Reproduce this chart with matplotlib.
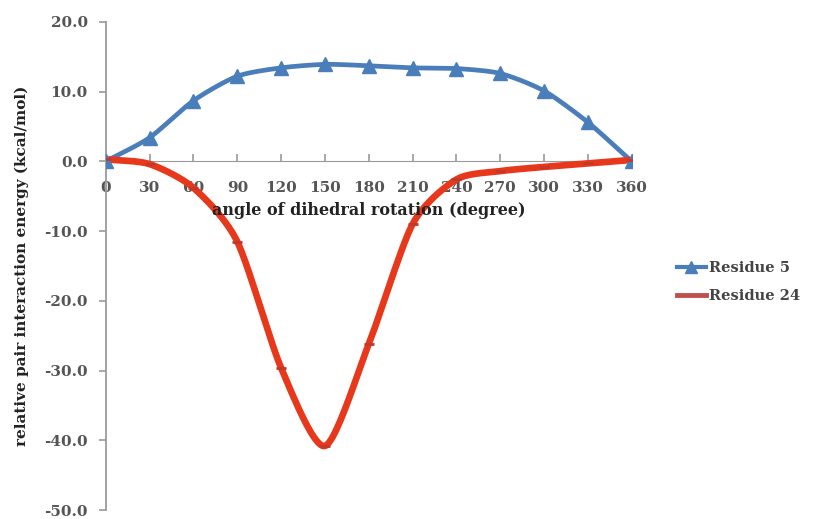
import numpy as np
import matplotlib.pyplot as plt
from matplotlib.lines import Line2D

angles = [0, 30, 60, 90, 120, 150, 180, 210, 240, 270, 300, 330, 360]
residue5 = [0.0, 3.4, 8.7, 12.2, 13.4, 13.9, 13.7, 13.4, 13.3, 12.6, 10.1, 5.6, 0.0]
residue24 = [0.3, -0.4, -3.8, -11.5, -29.6, -40.8, -26.2, -9.0, -2.6, -1.4, -0.8, -0.3, 0.2]

blue = '#4a7ebb'
red = '#e8381b'
serif = ['DejaVu Serif']


def smooth(x, y, n=24, k=0.75):
    # catmull-rom style curve through the points, like the spreadsheet "smoothed line"
    x = np.asarray(x, float)
    y = np.asarray(y, float)
    px = np.concatenate([[2 * x[0] - x[1]], x, [2 * x[-1] - x[-2]]])
    py = np.concatenate([[2 * y[0] - y[1]], y, [2 * y[-1] - y[-2]]])
    xs, ys = [], []
    t = np.linspace(0, 1, n, endpoint=False)
    for i in range(1, len(px) - 2):
        for arr, out in ((px, xs), (py, ys)):
            p0, p1, p2, p3 = arr[i - 1], arr[i], arr[i + 1], arr[i + 2]
            m1 = (p2 - p0) / 2 * k
            m2 = (p3 - p1) / 2 * k
            h00 = 2 * t**3 - 3 * t**2 + 1
            h10 = t**3 - 2 * t**2 + t
            h01 = -2 * t**3 + 3 * t**2
            h11 = t**3 - t**2
            out.extend(h00 * p1 + h10 * m1 + h01 * p2 + h11 * m2)
    xs.append(x[-1])
    ys.append(y[-1])
    return np.array(xs), np.array(ys)


fig = plt.figure(figsize=(8.14, 5.19), dpi=100)
ax = fig.add_axes([0.130, 0.017, 0.646, 0.941])

sx, sy = smooth(angles, residue5)
ax.plot(sx, sy, color=blue, lw=3.4, solid_capstyle='round', zorder=3)
ax.plot(angles, residue5, ls='none', marker='^', ms=10, color=blue, zorder=4)

sx, sy = smooth(angles, residue24)
ax.plot(sx, sy, color=red, lw=4.8, solid_capstyle='round', zorder=3)
ax.plot(angles, residue24, ls='none', marker='_', ms=7, mew=2, color='#c0392b', zorder=4)

ax.set_xlim(0, 360)
ax.set_ylim(-50, 20)
ax.set_yticks(np.arange(-50, 21, 10))
ax.set_yticklabels(['%.1f' % v for v in np.arange(-50, 21, 10)])
ax.set_xticks(angles)

ax.spines['top'].set_visible(False)
ax.spines['right'].set_visible(False)
ax.spines['bottom'].set_position(('data', 0))
ax.spines['bottom'].set_color('#9a9a9a')
ax.spines['left'].set_color('#9a9a9a')
ax.spines['left'].set_linewidth(1.3)
ax.tick_params(axis='both', colors='#9a9a9a', length=5, width=1.2)
ax.tick_params(axis='x', direction='in', pad=14)
ax.tick_params(axis='y', pad=8)
for lab in ax.get_xticklabels() + ax.get_yticklabels():
    lab.set_family(serif)
    lab.set_fontsize(11)
    lab.set_fontweight('bold')
    lab.set_color('#555555')

ax.text(180, -7.0, 'angle of dihedral rotation (degree)', ha='center', va='center',
        fontsize=11.5, fontweight='bold', family=serif, color='#222222')
fig.text(0.027, 0.487, 'relative pair interaction energy (kcal/mol)', rotation=90,
         ha='center', va='center', fontsize=11, fontweight='bold', family=serif,
         color='#222222')

handles = [Line2D([], [], color=blue, lw=3, marker='^', ms=8),
           Line2D([], [], color='#c0504d', lw=3.5)]
leg = fig.legend(handles, ['Residue 5', 'Residue 24'], loc='center left',
                 bbox_to_anchor=(0.815, 0.456), frameon=False, handlelength=2.0,
                 handletextpad=0.2, labelspacing=0.95,
                 prop={'family': serif, 'weight': 'bold', 'size': 10.5})
for t in leg.get_texts():
    t.set_color('#444444')

fig.savefig('out.png', dpi=100)
